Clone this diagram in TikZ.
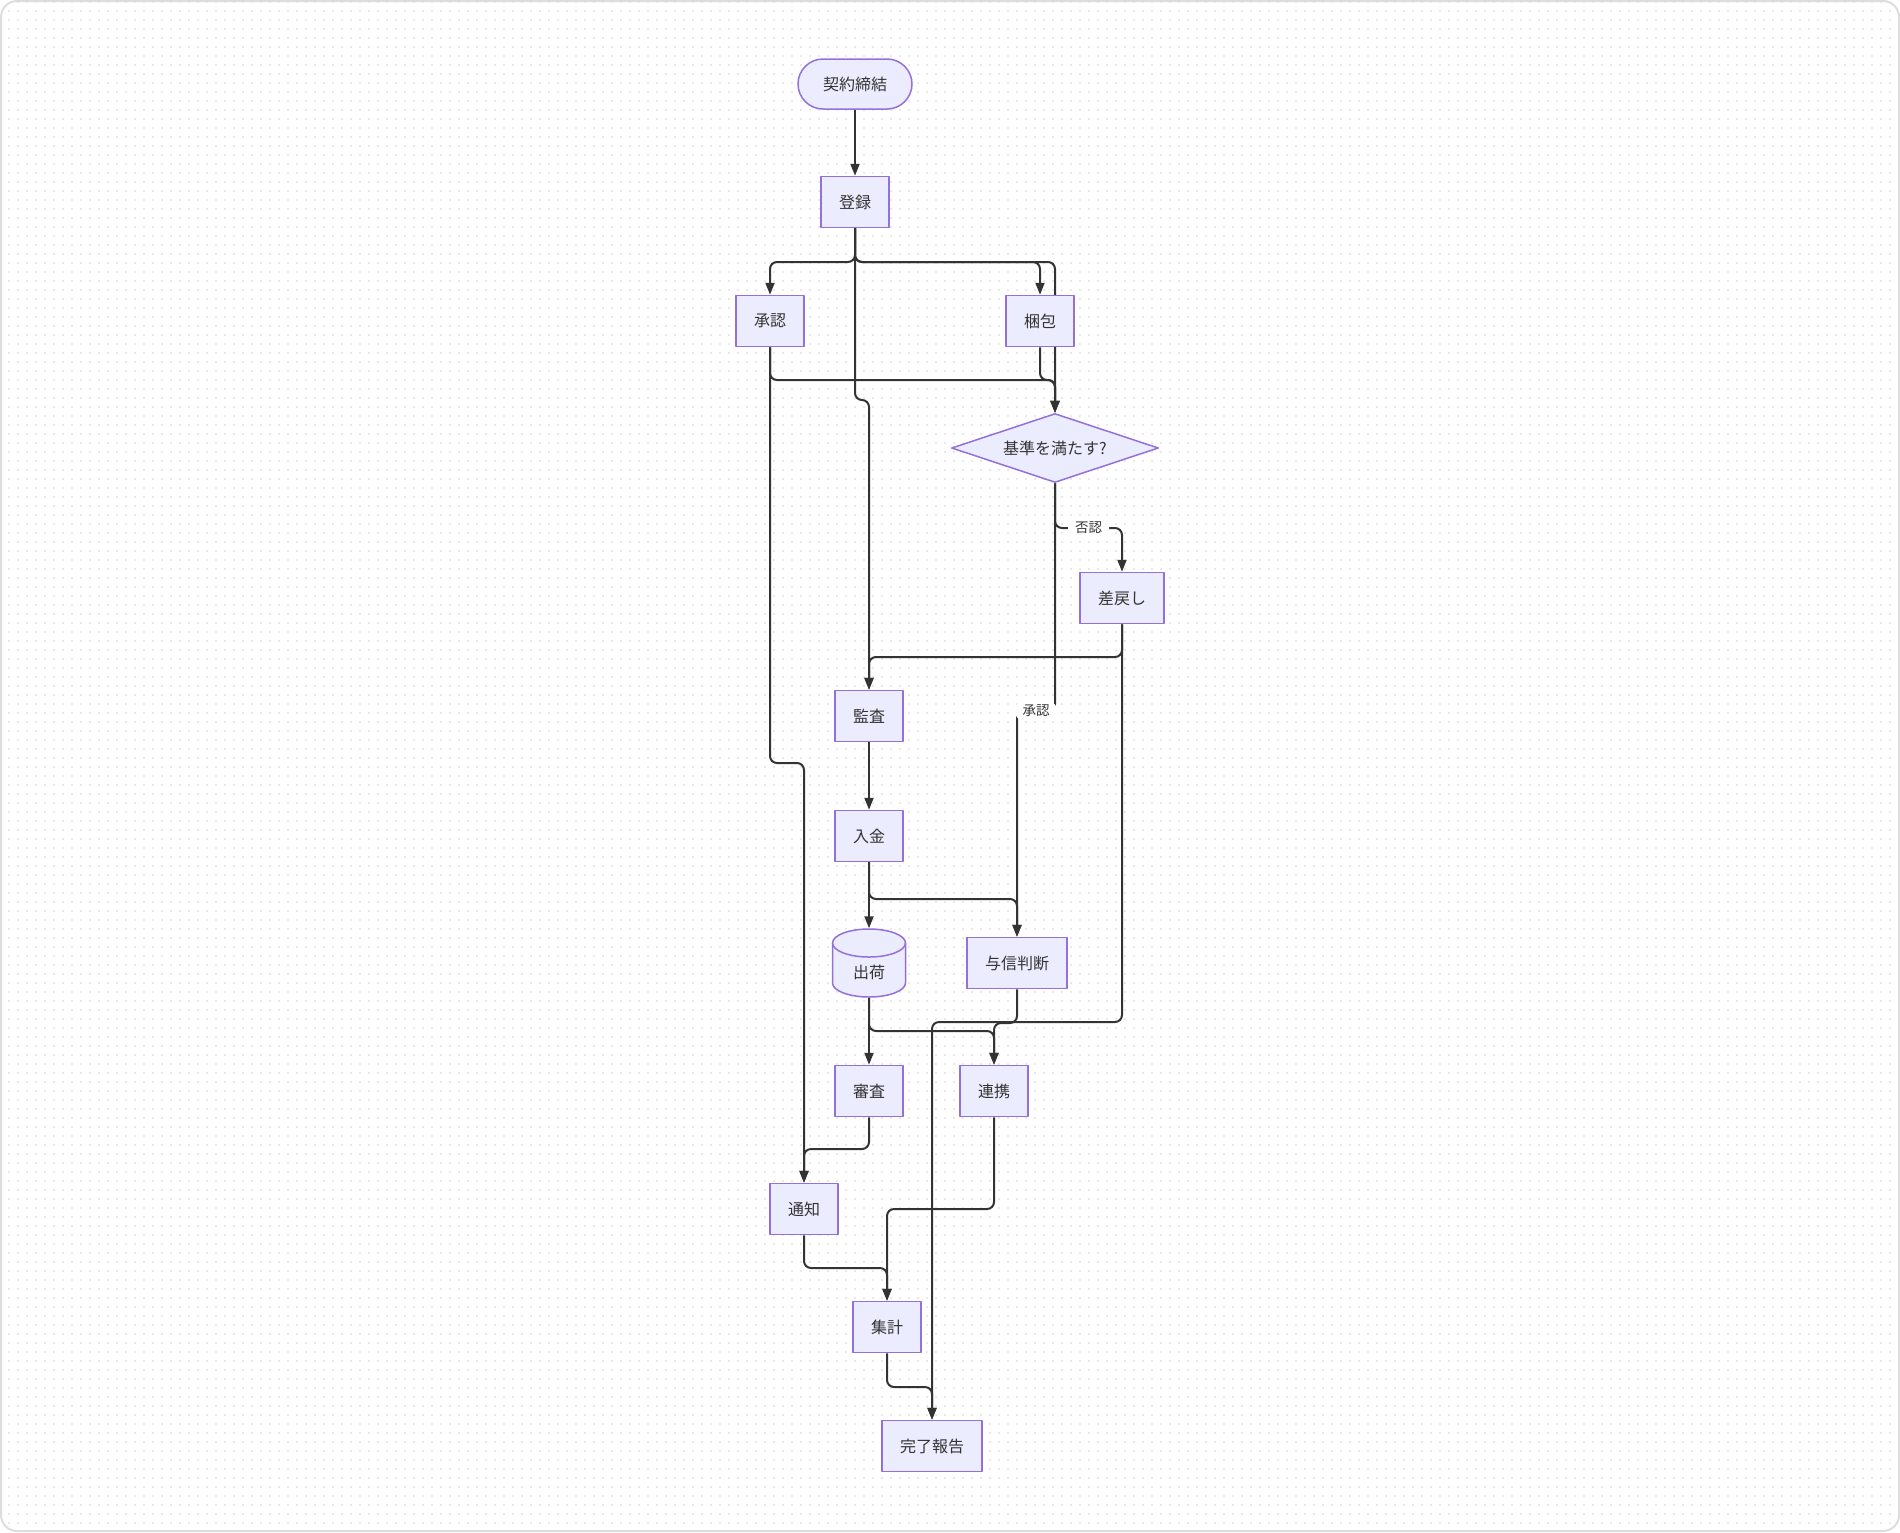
\documentclass[tikz,border=0pt]{standalone}
\usepackage{fontspec}
\setmainfont{Noto Sans CJK JP}
\usetikzlibrary{arrows.meta,shapes.geometric,patterns.meta,backgrounds}
\definecolor{boxfill}{HTML}{ECECFF}
\definecolor{boxline}{HTML}{9370DB}
\definecolor{ink}{HTML}{333333}
\definecolor{frameline}{HTML}{DDDDDD}
\definecolor{dotgray}{HTML}{D4D4D4}
\pgfdeclarelayer{edges}
\pgfsetlayers{background,edges,main}
\tikzset{
  box/.style={draw=boxline, fill=boxfill, line width=0.75pt, text=ink, inner xsep=9pt, inner ysep=0pt, minimum height=25.5pt, font=\fontsize{8}{10}\selectfont},
  startbox/.style={box, rounded corners=12.5pt, minimum width=57pt, minimum height=25pt},
  decision/.style={box, diamond, aspect=3, inner sep=0pt, minimum width=103.5pt, minimum height=34.5pt},
  flow/.style={draw=ink, line width=1pt, rounded corners=3.5pt, -{Triangle[length=6pt,width=4.5pt]}},
  elabel/.style={fill=white, text=ink, inner xsep=3.5pt, inner ysep=1.5pt, font=\fontsize{6.75}{8}\selectfont},
}
\begin{document}
\begin{tikzpicture}[x=0.5pt,y=-0.5pt,line join=round,line cap=round]
\def \xmax{1900};
\def \ymax{1532};
\useasboundingbox (0,0) rectangle (\xmax,\ymax);
\begin{scope}[on background layer]
\fill[white,rounded corners=8pt] (1,1) rectangle (\xmax-1,\ymax-1);
\fill[pattern={Dots[distance=4.5pt,radius=0.4pt]},pattern color=dotgray,rounded corners=8pt] (1,1) rectangle (\xmax-1,\ymax-1);
\draw[frameline,line width=1pt,rounded corners=8pt] (1,1) rectangle (\xmax-1,\ymax-1);
\end{scope}
\node[startbox] (start) at (855,84) {契約締結};
\node[box] (reg) at (855,202) {登録};
\node[box] (appr) at (770,321) {承認};
\node[box] (pack) at (1040,321) {梱包};
\node[decision] (dec) at (1055,448) {基準を満たす?};
\node[box] (back) at (1122,598) {差戻し};
\node[box] (audit) at (869,716) {監査};
\node[box] (pay) at (869,836) {入金};
\filldraw[fill=boxfill,draw=boxline,line width=0.75pt] (832.5,943) -- (832.5,983) arc[start angle=180,end angle=360,x radius=18.25pt,y radius=7pt] -- (905.5,943) arc[start angle=0,end angle=180,x radius=18.25pt,y radius=7pt] -- cycle;
\draw[boxline,line width=0.75pt] (832.5,943) arc[start angle=180,end angle=360,x radius=18.25pt,y radius=7pt];
\node[box,draw=none,fill=none,minimum width=36.5pt,minimum height=34pt,inner xsep=0pt,text height=15pt,text depth=0pt] (ship) at (869,963) {出荷};
\node[box] (credit) at (1017,963) {与信判断};
\node[box] (review) at (869,1091) {審査};
\node[box] (link) at (994,1091) {連携};
\node[box] (notice) at (804,1209) {通知};
\node[box] (total) at (887,1327) {集計};
\node[box] (done) at (932,1446) {完了報告};
\begin{pgfonlayer}{edges}
\foreach \a/\b in {start/reg,audit/pay,pay/ship,ship/review}{\draw[flow] (\a) -- (\b);}
\foreach \a/\b/\t in {reg/appr/262,reg/pack/262,reg/dec/262,reg/audit/400,appr/dec/380,pack/dec/380,appr/notice/763,back/audit/657,back/done/1022,pay/credit/899,ship/link/1031,credit/link/1023,review/notice/1149,link/total/1209,notice/total/1268,total/done/1387}{
  \draw[flow] (\a.south) -- (\a.south |- 0,\t) -- (\b.north |- 0,\t) -- (\b.north);}
\draw[flow] (dec.south) -- (dec.south |- 0,528) -- node[elabel] {否認} (back.north |- 0,528) -- (back.north);
\draw[flow] (dec.south) -- (dec.south |- 0,711) -- node[elabel] {承認} (credit.north |- 0,711) -- (credit.north);
\end{pgfonlayer}
\end{tikzpicture}
\end{document}
